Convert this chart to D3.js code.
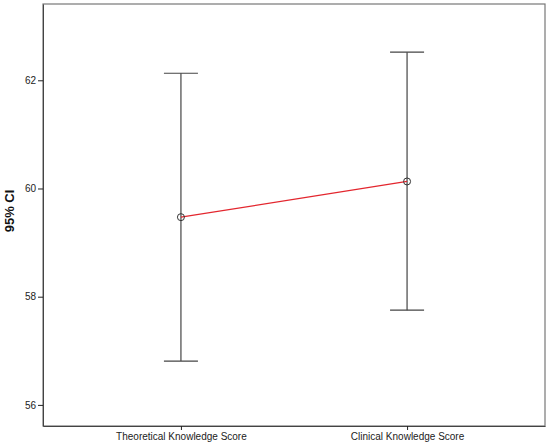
<!DOCTYPE html>
<html>
<head>
<meta charset="utf-8">
<script src="https://cdn.jsdelivr.net/npm/d3@7"></script>
<style>
  body { margin: 0; background: #fff; }
  svg { display: block; font-family: "Liberation Sans", Arial, sans-serif; }
</style>
</head>
<body>
<svg id="chart" width="550" height="447"></svg>
<script>
// data
const categories = ["Theoretical Knowledge Score", "Clinical Knowledge Score"]
const means = [59.47, 60.13]
const lower = [56.81, 57.75]
const upper = [62.13, 62.52]
const yTicks = [56, 58, 60, 62]

const svg = d3.select("#chart")
const margin = { top: 4, right: 5, bottom: 21, left: 43 }
const width = +svg.attr("width") - margin.left - margin.right
const height = +svg.attr("height") - margin.top - margin.bottom

const g = svg.append("g").attr("transform", `translate(${margin.left},${margin.top})`)

const x = d3.scalePoint().domain(categories).range([0, width]).padding(0.61)
const y = d3.scaleLinear().domain([55.61, 63.41]).range([height, 0])

// frame
g.append("rect")
  .attr("x", 0).attr("y", 0)
  .attr("width", width).attr("height", height)
  .attr("fill", "none")
  .attr("stroke", "#777")
  .attr("stroke-width", 1.2)

// y axis
const yAxis = g.append("g")
  .call(d3.axisLeft(y).tickValues(yTicks).tickSize(5).tickSizeOuter(0).tickPadding(2))
yAxis.select(".domain").attr("stroke", "#444")
yAxis.selectAll("text").attr("font-size", 10).attr("fill", "#222").attr("font-family", "Liberation Sans, Arial, sans-serif")
yAxis.selectAll("line").attr("stroke", "#222")

// x axis
const xAxis = g.append("g")
  .attr("transform", `translate(0,${height})`)
  .call(d3.axisBottom(x).tickSize(4).tickSizeOuter(0).tickPadding(3))
xAxis.select(".domain").attr("stroke", "#444")
xAxis.selectAll("text").attr("font-size", 10).attr("fill", "#222").attr("font-family", "Liberation Sans, Arial, sans-serif")
xAxis.selectAll("line").attr("stroke", "#222")

// y axis title
svg.append("text")
  .attr("transform", "translate(14,211) rotate(-90)")
  .attr("text-anchor", "middle")
  .attr("font-size", 13)
  .attr("font-weight", "bold")
  .attr("fill", "#111")
  .text("95% CI")

// error bars
const capHalf = 17
categories.forEach(function (c, i) {
  const cx = x(c)
  g.append("line")
    .attr("x1", cx).attr("x2", cx)
    .attr("y1", y(lower[i])).attr("y2", y(upper[i]))
    .attr("stroke", "#444").attr("stroke-width", 1.2)
  g.append("line")
    .attr("x1", cx - capHalf).attr("x2", cx + capHalf)
    .attr("y1", y(upper[i])).attr("y2", y(upper[i]))
    .attr("stroke", "#444").attr("stroke-width", 1.2)
  g.append("line")
    .attr("x1", cx - capHalf).attr("x2", cx + capHalf)
    .attr("y1", y(lower[i])).attr("y2", y(lower[i]))
    .attr("stroke", "#444").attr("stroke-width", 1.2)
})

// mean line
const line = d3.line()
  .x(function (d, i) { return x(categories[i]) })
  .y(function (d) { return y(d) })
g.append("path")
  .datum(means)
  .attr("d", line)
  .attr("fill", "none")
  .attr("stroke", "#e3262e")
  .attr("stroke-width", 1.3)

// mean markers
g.selectAll("circle.mean")
  .data(means)
  .enter()
  .append("circle")
    .attr("class", "mean")
    .attr("cx", function (d, i) { return x(categories[i]) })
    .attr("cy", function (d) { return y(d) })
    .attr("r", 3.5)
    .attr("fill", "none")
    .attr("stroke", "#333")
    .attr("stroke-width", 1)
</script>
</body>
</html>
